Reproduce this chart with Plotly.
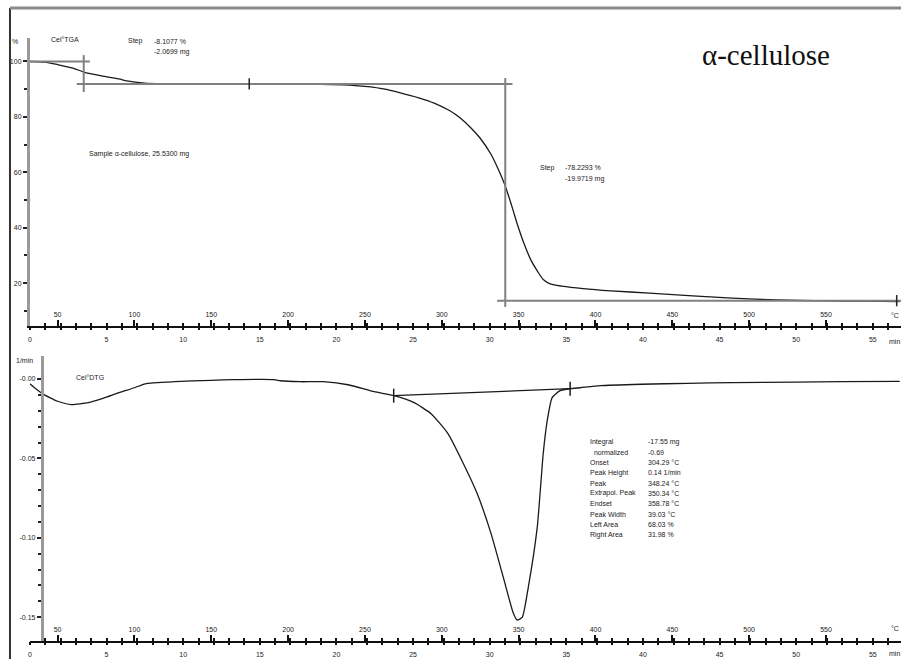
import plotly.graph_objects as go

W, H = 901, 659

# ---- TGA curve: temperature (°C) vs. mass (%) ----
tga_temp = [32, 41.7, 50, 60, 67, 78.7, 90, 95, 106.6, 120, 140, 160, 180, 200, 220,
            240, 252, 262, 273, 285, 295, 305, 312, 319, 325, 332, 336, 341, 346,
            349, 353, 358, 362, 366, 371, 378, 392, 410, 435, 466, 489, 518, 550,
            575, 598]
tga_mass = [100, 99.8, 98.9, 97.6, 96.2, 94.8, 93.7, 93.0, 92.2, 92.0, 91.9, 91.9,
            91.9, 91.85, 91.75, 91.5, 90.9, 90.1, 88.7, 86.9, 85.0, 82.3, 79.6,
            76.0, 72.3, 66.5, 62.0, 55.5, 47.0, 41.5, 35.0, 28.3, 24.5, 21.3, 19.6,
            18.9, 18.0, 17.2, 16.4, 15.3, 14.6, 13.9, 13.6, 13.5, 13.3]

# ---- DTG curve: temperature (°C) vs. rate (1/min) ----
dtg_temp = [32, 35, 40, 50, 59, 70, 80, 90, 100, 107, 126, 150, 165, 191, 195, 208,
            223, 239, 256, 269, 282, 293, 304, 314, 323, 332, 340, 346.5, 349,
            352.4, 356.3, 362.1, 366, 368.6, 371.8, 377, 383.5, 390, 403, 430, 460,
            489, 530, 560, 598]
dtg_rate = [-0.003, -0.0055, -0.0092, -0.014, -0.0161, -0.0149, -0.012, -0.0086,
            -0.0055, -0.003, -0.0017, -0.0008, -0.0004, -0.0004, -0.0011, -0.0017,
            -0.0017, -0.0036, -0.008, -0.0105, -0.0149, -0.0218, -0.0344, -0.0532,
            -0.0721, -0.0972, -0.1248, -0.1474, -0.1518, -0.150, -0.131, -0.0934,
            -0.0469, -0.0262, -0.0117, -0.0073, -0.0061, -0.0055, -0.0042, -0.0033,
            -0.0027, -0.0023, -0.0019, -0.0017, -0.0015]

# ---- step evaluation (horizontal levels, %) ----
step_levels = [100.0, 91.8923, 13.6630]          # start, after step 1, after step 2
step1_line_temp = [32, 71]                          # first level line
step1_vert_temp = 67                                # step 1 marker line
step1_vert_span = [102.3, 89.0]
mid_line_temp = [62.5, 346]                         # level after step 1
step2_vert_temp = 341.3
step2_vert_span = [94.0, 11.4]
end_line_temp = [336, 598.8]
limit_marks_temp = [174.7, 596]
limit_marks_mass = [91.8923, 13.663]

# ---- DTG peak baseline ----
base_temp = [268.7, 383.5]
base_rate = [-0.0105, -0.0061]

# ---- axis ticks ----
temp_ticks = [50, 100, 150, 200, 250, 300, 350, 400, 450, 500, 550]
time_ticks = list(range(0, 57))
time_labels = [str(t) if t % 5 == 0 else "" for t in time_ticks]
mass_ticks = [20, 40, 60, 80, 100]
mass_minor = [10, 30, 50, 70, 90]
rate_ticks = [0, -0.05, -0.10, -0.15]
rate_labels = ["-0.00", "-0.05", "-0.10", "-0.15"]
rate_minor = [round(-0.01 * i, 2) for i in range(0, 17)]

TEMP_RANGE = [32, 598.8]
TIME_RANGE = [0, 56.84]
MASS_RANGE = [4.52, 108.48]
RATE_RANGE = [-0.165, 0.0145]

info_names = ["Integral", "  normalized", "Onset", "Peak Height", "Peak",
              "Extrapol. Peak", "Endset", "Peak Width", "Left Area", "Right Area"]
info_values = ["-17.55 mg", "-0.69", "304.29 °C", "0.14 1/min", "348.24 °C",
               "350.34 °C", "358.78 °C", "39.03 °C", "68.03 %", "31.98 %"]


def px(x):
    return x / W


def py(y):
    return 1 - y / H


FONT = dict(family="Liberation Sans", size=7, color="#222")
GRAY = "#808080"

fig = go.Figure()

# TGA
fig.add_trace(go.Scatter(x=tga_temp, y=tga_mass, mode="lines",
                         line=dict(color="#1a1a1a", width=1.3, shape="spline", smoothing=0.6),
                         xaxis="x", yaxis="y", hoverinfo="skip"))
# step lines
fig.add_trace(go.Scatter(x=step1_line_temp, y=[step_levels[0]] * 2, mode="lines",
                         line=dict(color=GRAY, width=2), xaxis="x", yaxis="y"))
fig.add_trace(go.Scatter(x=[step1_vert_temp] * 2, y=step1_vert_span, mode="lines",
                         line=dict(color=GRAY, width=2), xaxis="x", yaxis="y"))
fig.add_trace(go.Scatter(x=mid_line_temp, y=[step_levels[1]] * 2, mode="lines",
                         line=dict(color=GRAY, width=2), xaxis="x", yaxis="y"))
fig.add_trace(go.Scatter(x=[step2_vert_temp] * 2, y=step2_vert_span, mode="lines",
                         line=dict(color=GRAY, width=2), xaxis="x", yaxis="y"))
fig.add_trace(go.Scatter(x=end_line_temp, y=[step_levels[2]] * 2, mode="lines",
                         line=dict(color=GRAY, width=2), xaxis="x", yaxis="y"))
fig.add_trace(go.Scatter(x=limit_marks_temp, y=limit_marks_mass, mode="markers",
                         marker=dict(symbol="line-ns", size=8,
                                     line=dict(color="#222", width=1.5)),
                         xaxis="x", yaxis="y"))

# DTG
fig.add_trace(go.Scatter(x=dtg_temp, y=dtg_rate, mode="lines",
                         line=dict(color="#1a1a1a", width=1.3, shape="spline", smoothing=0.5),
                         xaxis="x2", yaxis="y2", hoverinfo="skip"))
fig.add_trace(go.Scatter(x=base_temp, y=base_rate, mode="lines+markers",
                         line=dict(color="#1a1a1a", width=1.2),
                         marker=dict(symbol="line-ns", size=10,
                                     line=dict(color="#1a1a1a", width=1.5)),
                         xaxis="x2", yaxis="y2"))

# empty traces so the overlaid time axes are created
for xa, ya in [("x3", "y"), ("x5", "y"), ("x4", "y2"), ("x6", "y2")]:
    fig.add_trace(go.Scatter(x=[], y=[], xaxis=xa, yaxis=ya, hoverinfo="skip"))

dom_x = [px(28), 1.0]
top_dom = [py(326), py(38)]
bot_dom = [py(641), py(356)]

temp_axis = dict(range=TEMP_RANGE, domain=dom_x, showgrid=False, zeroline=False,
                 showline=True, linecolor="#111", linewidth=1.5,
                 tickmode="array", tickvals=temp_ticks, ticks="inside", ticklen=6,
                 tickwidth=1.5, tickcolor="#111", ticklabelposition="inside",
                 tickfont=FONT, fixedrange=True)
time_axis = dict(range=TIME_RANGE, showgrid=False, zeroline=False, showline=False,
                 tickmode="array", tickvals=time_ticks, ticktext=time_labels,
                 ticks="outside", ticklen=3, tickwidth=1.5, tickcolor="#111",
                 tickfont=FONT, ticklabelstandoff=4, fixedrange=True)
time_in_axis = dict(range=TIME_RANGE, showgrid=False, zeroline=False, showline=False,
                    tickmode="array", tickvals=time_ticks, showticklabels=False,
                    ticks="inside", ticklen=3, tickwidth=1.5, tickcolor="#111",
                    fixedrange=True)

fig.update_layout(
    width=W, height=H, margin=dict(l=0, r=0, t=0, b=0),
    paper_bgcolor="white", plot_bgcolor="white", showlegend=False,
    xaxis=dict(anchor="y", **temp_axis),
    xaxis3=dict(anchor="y", overlaying="x", **time_axis),
    xaxis5=dict(anchor="y", overlaying="x", **time_in_axis),
    xaxis2=dict(anchor="y2", **temp_axis),
    xaxis4=dict(anchor="y2", overlaying="x2", **time_axis),
    xaxis6=dict(anchor="y2", overlaying="x2", **time_in_axis),
    yaxis=dict(anchor="x", domain=top_dom, range=MASS_RANGE, showgrid=False,
               zeroline=False, showline=True, linecolor="#9a9a9a", linewidth=3,
               tickmode="array", tickvals=mass_ticks, ticks="outside", ticklen=4,
               tickwidth=1.5, tickcolor="#222", tickfont=FONT,
               minor=dict(tickvals=mass_minor, ticks="outside", ticklen=3,
                          tickwidth=1.5, tickcolor="#222"),
               fixedrange=True),
    yaxis2=dict(anchor="free", position=px(40), domain=bot_dom, range=RATE_RANGE,
                showgrid=False, zeroline=False, showline=True, linecolor="#9a9a9a",
                linewidth=3, tickmode="array", tickvals=rate_ticks,
                ticktext=rate_labels, ticks="outside", ticklen=4, tickwidth=1.5,
                tickcolor="#222", tickfont=FONT,
                minor=dict(tickvals=rate_minor, ticks="outside", ticklen=3,
                           tickwidth=1.5, tickcolor="#222"),
                fixedrange=True),
)

# outer frame
fig.add_shape(type="line", xref="paper", yref="paper", x0=px(8), x1=px(8),
              y0=py(8), y1=0, line=dict(color="#333", width=2))
fig.add_shape(type="line", xref="paper", yref="paper", x0=px(8), x1=1,
              y0=py(8), y1=py(8), line=dict(color="#8a8a8a", width=3))


def note(text, x, y, anchor="left", font=None):
    fig.add_annotation(text=text, x=px(x), y=py(y), xref="paper", yref="paper",
                       xanchor=anchor, yanchor="middle", showarrow=False,
                       font=font or FONT)


note("%", 13, 41, "center")
note("Cel°TGA", 47, 39)
note("Step", 124, 41)
note(f"{step_levels[1] - step_levels[0]:.4f} %", 150, 41)
note("-2.0699 mg", 150, 52)
note("Sample α-cellulose, 25.5300 mg", 85, 154)
note("Step", 537, 168)
note(f"{step_levels[2] - step_levels[1]:.4f} %", 562, 168)
note("-19.9719 mg", 562, 179)
note("α-cellulose", 700, 55,
     font=dict(family="Liberation Serif", size=29, color="#111"))
note("1/min", 12, 361)
note("Cel°DTG", 72, 377)
for i, (n, v) in enumerate(zip(info_names, info_values)):
    note(n, 587, 442 + i * 10.3)
    note(v, 645, 442 + i * 10.3)
note("min", 887, 341)
note("min", 887, 653)
note("°C", 889, 315)
note("°C", 889, 628)

fig.write_html("out.html")
